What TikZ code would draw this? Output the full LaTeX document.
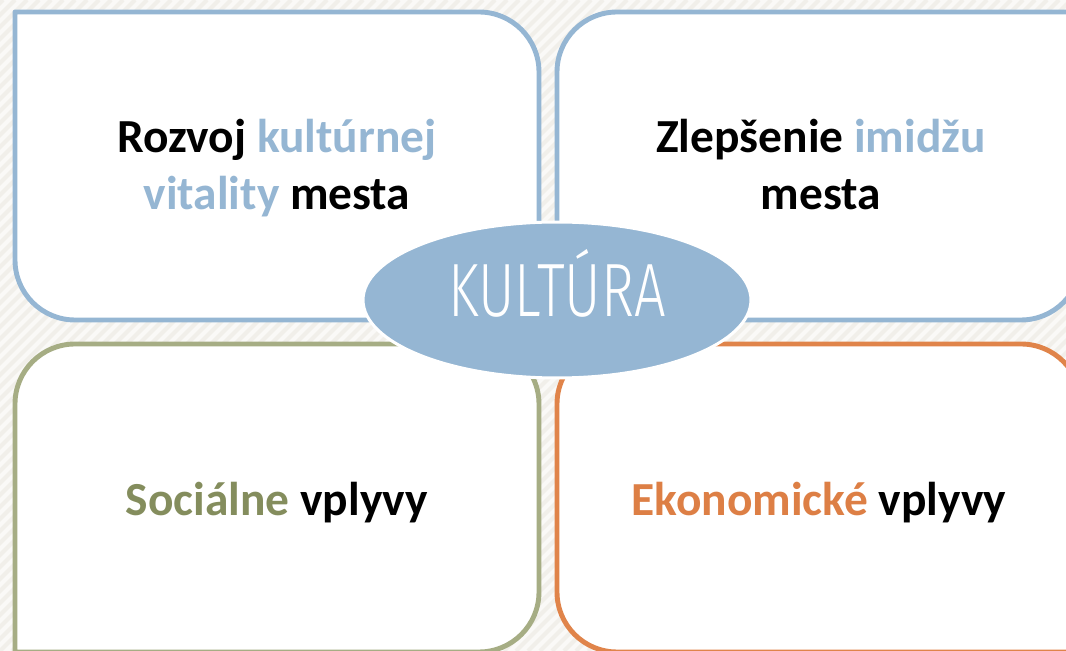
\documentclass[tikz,border=0pt]{standalone}
\usepackage{fontspec}
\setmainfont{Carlito}
\newfontfamily\kulfont[FakeStretch=0.74]{Fira Sans Light}
\usetikzlibrary{shapes.geometric}

\definecolor{modra}{HTML}{95B6D3}
\definecolor{zelena}{HTML}{A6AD84}
\definecolor{zelenytext}{HTML}{848D5D}
\definecolor{oranzova}{HTML}{E0844A}
\definecolor{oranzovytext}{HTML}{DD7F45}
\definecolor{pozadie}{HTML}{FAF9F7}
\definecolor{pruh}{HTML}{F1EFEA}

\begin{document}
\begin{tikzpicture}[x=0.02cm,y=-0.02cm,
  ramec/.style={line width=2.8pt, fill=white, line join=round},
  popis/.style={font=\fontsize{27}{33}\selectfont\bfseries, align=center, inner sep=0pt, anchor=base},
  kruh/.style={ellipse, fill=modra, draw=white, line width=1.7pt, minimum width=7.76cm, minimum height=3.12cm, inner sep=0pt, text=white, text height=0.98cm, text depth=0.3cm, font=\fontsize{43}{43}\selectfont\kulfont}]

% Pozadie

\useasboundingbox (0,0) rectangle (1066,651);
\clip (0,0) rectangle (1066,651);
\fill[pozadie] (0,0) rectangle (1066,651);
\foreach \i in {-660,-648,...,1070}
  \draw[pruh, line width=2.4pt] (\i,651) -- ++(651,-651);

% Stvorce

\draw[ramec, draw=modra] (15,166) -- (15,12) [rounded corners=1.2cm] -- (539,12) -- (539,320) -- (15,320) -- cycle;
\draw[ramec, draw=modra] (1081,166) -- (1081,12) [rounded corners=1.2cm] -- (557,12) -- (557,320) -- (1081,320) -- cycle;
\draw[ramec, draw=zelena] (15,498) -- (15,652) [rounded corners=1.2cm] -- (539,652) -- (539,344) -- (15,344) -- cycle;
\draw[ramec, draw=oranzova] (1081,498) -- (1081,652) [rounded corners=1.2cm] -- (557,652) -- (557,344) -- (1081,344) -- cycle;

% Texty

\node[popis] (vitalita) at (277,210) {Rozvoj \textcolor{modra}{kultúrnej}\\\textcolor{modra}{vitality} mesta};
\node[popis] (imidz) at (821,210) {Zlepšenie \textcolor{modra}{imidžu}\\mesta};
\node[popis] (socialne) at (277,516) {\textcolor{zelenytext}{Sociálne} vplyvy};
\node[popis] (ekonomicke) at (819,516) {\textcolor{oranzovytext}{Ekonomické} vplyvy};

% Stred

\node[kruh] (kultura) at (557,300) {KULTÚRA};

\end{tikzpicture}
\end{document}
